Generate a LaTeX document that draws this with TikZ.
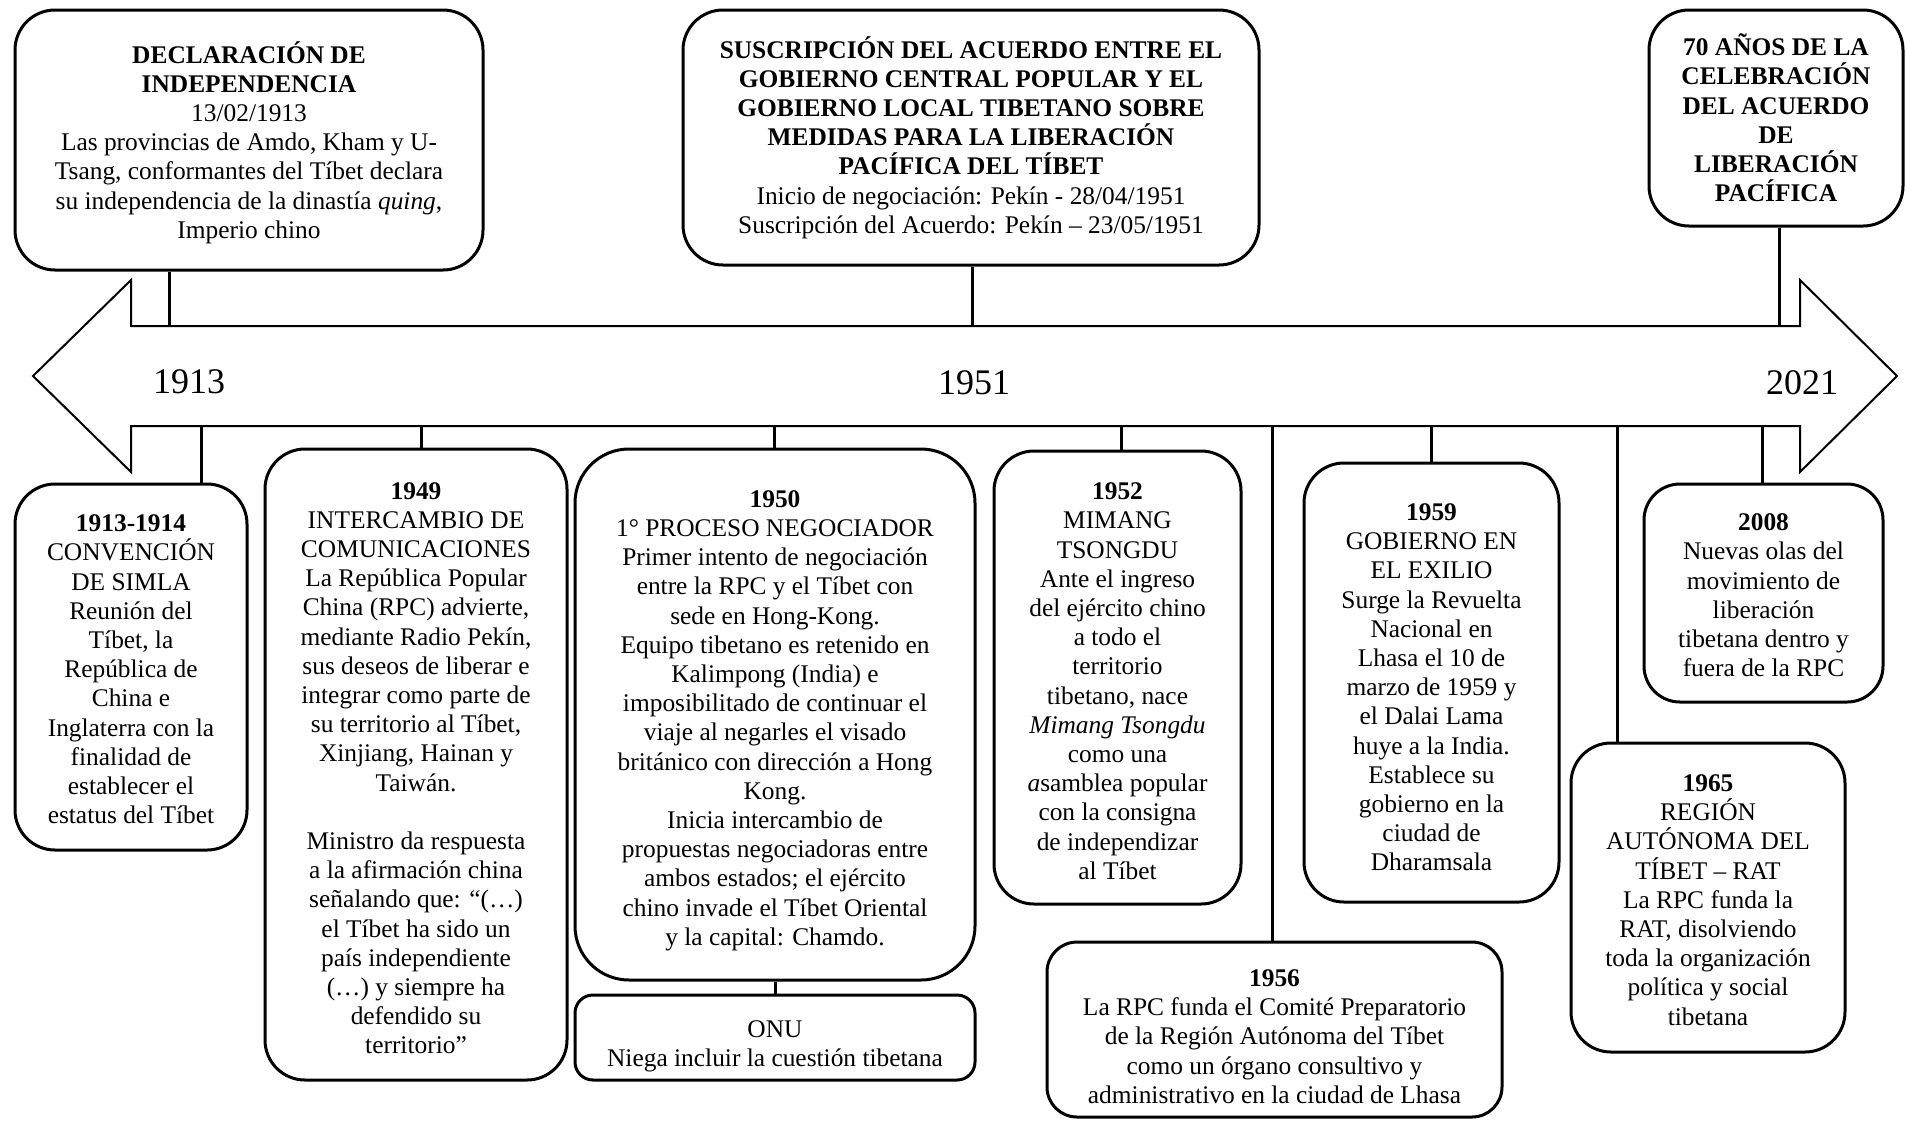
\documentclass[tikz,border=0pt]{standalone}
\usepackage{fontspec}
\setmainfont{Liberation Serif}
\tikzset{
  box/.style={draw, line width=1.5pt, rounded corners=20pt, inner sep=0pt},
  txt/.style={align=center, inner sep=0pt, font=\fontsize{12.7}{14.6}\selectfont},
  stem/.style={line width=1.5pt},
  yr/.style={font=\fontsize{18}{20}\selectfont},
  arrowshape/.style={draw, line width=1pt, line join=miter}
}
\begin{document}
\begin{tikzpicture}[x=0.5pt,y=-0.5pt]
\useasboundingbox (0,0) rectangle (1907,1121);
\fill[white] (0,0) rectangle (1907,1121);

% timeline arrow
\draw[arrowshape] (131,326) -- (131,280) -- (33,376) -- (131,472) -- (131,426)
  -- (1800,426) -- (1800,472) -- (1897,376) -- (1800,280) -- (1800,326) -- cycle;

\node[yr] (y1913) at (189,382) {1913};
\node[yr] (y1951) at (974,383) {1951};
\node[yr] (y2021) at (1802,383) {2021};

% top boxes
\node[box, minimum width=234pt, minimum height=130pt] (A) at (249,140) {};
\node[txt] (At) at ([yshift=-1.2pt]A.center)
 {\textbf{DECLARACIÓN DE}\\ \textbf{INDEPENDENCIA}\\ 13/02/1913\\ Las provincias de Amdo, Kham y U-\\ Tsang, conformantes del Tíbet declara\\ su independencia de la dinastía \textit{quing},\\ Imperio chino};

\node[box, minimum width=288pt, minimum height=127.5pt] (B) at (971,137.5) {};
\node[txt] (Bt) at (B.center)
 {\textbf{SUSCRIPCIÓN DEL ACUERDO ENTRE EL}\\ \textbf{GOBIERNO CENTRAL POPULAR Y EL}\\ \textbf{GOBIERNO LOCAL TIBETANO SOBRE}\\ \textbf{MEDIDAS PARA LA LIBERACIÓN}\\ \textbf{PACÍFICA DEL TÍBET}\\ Inicio de negociación: Pekín - 28/04/1951\\ Suscripción del Acuerdo: Pekín – 23/05/1951};

\node[box, minimum width=127pt, minimum height=108pt] (C) at (1776,118) {};
\node[txt] (Ct) at (C.center)
 {\textbf{70 AÑOS DE LA}\\ \textbf{CELEBRACIÓN}\\ \textbf{DEL ACUERDO}\\ \textbf{DE}\\ \textbf{LIBERACIÓN}\\ \textbf{PACÍFICA}};

% bottom boxes
\node[box, minimum width=116pt, minimum height=183pt] (D) at (131,667) {};
\node[txt] (Dt) at ([yshift=-1.2pt]D.center)
 {\textbf{1913-1914}\\ CONVENCIÓN\\ DE SIMLA\\ Reunión del\\ Tíbet, la\\ República de\\ China e\\ Inglaterra con la\\ finalidad de\\ establecer el\\ estatus del Tíbet};

\node[box, minimum width=151pt, minimum height=315.5pt] (E) at (416,764.5) {};
\node[txt] (Et) at ([yshift=-1.8pt]E.center)
 {\textbf{1949}\\ INTERCAMBIO DE\\ COMUNICACIONES\\ La República Popular\\ China (RPC) advierte,\\ mediante Radio Pekín,\\ sus deseos de liberar e\\ integrar como parte de\\ su territorio al Tíbet,\\ Xinjiang, Hainan y\\ Taiwán.\\[14.6pt] Ministro da respuesta\\ a la afirmación china\\ señalando que: “(…)\\ el Tíbet ha sido un\\ país independiente\\ (…) y siempre ha\\ defendido su\\ territorio”};

\node[box, rounded corners=27pt, minimum width=200pt, minimum height=265.5pt] (F) at (775,714.5) {};
\node[txt] (Ft) at ([yshift=-3pt]F.center)
 {\textbf{1950}\\ 1° PROCESO NEGOCIADOR\\ Primer intento de negociación\\ entre la RPC y el Tíbet con\\ sede en Hong-Kong.\\ Equipo tibetano es retenido en\\ Kalimpong (India) e\\ imposibilitado de continuar el\\ viaje al negarles el visado\\ británico con dirección a Hong\\ Kong.\\ Inicia intercambio de\\ propuestas negociadoras entre\\ ambos estados; el ejército\\ chino invade el Tíbet Oriental\\ y la capital: Chamdo.};

\node[box, rounded corners=9pt, minimum width=200pt, minimum height=42.5pt] (G) at (775,1037.5) {};
\node[txt] (Gt) at ([yshift=-4.5pt]G.center)
 {ONU\\ Niega incluir la cuestión tibetana};

\node[box, minimum width=123.5pt, minimum height=226.5pt] (H) at (1117.5,677.5) {};
\node[txt] (Ht) at ([yshift=-1.8pt]H.center)
 {\textbf{1952}\\ MIMANG\\ TSONGDU\\ Ante el ingreso\\ del ejército chino\\ a todo el\\ territorio\\ tibetano, nace\\ \textit{Mimang Tsongdu}\\ como una\\ \textit{a}samblea popular\\ con la consigna\\ de independizar\\ al Tíbet};

\node[box, rounded corners=15pt, minimum width=227.5pt, minimum height=87.5pt] (I) at (1274.5,1029.5) {};
\node[txt] (It) at ([yshift=-3.5pt]I.center)
 {\textbf{1956}\\ La RPC funda el Comité Preparatorio\\ de la Región Autónoma del Tíbet\\ como un órgano consultivo y\\ administrativo en la ciudad de Lhasa};

\node[box, minimum width=127.5pt, minimum height=219.5pt] (J) at (1431.5,682.5) {};
\node[txt] (Jt) at ([yshift=-2.4pt]J.center)
 {\textbf{1959}\\ GOBIERNO EN\\ EL EXILIO\\ Surge la Revuelta\\ Nacional en\\ Lhasa el 10 de\\ marzo de 1959 y\\ el Dalai Lama\\ huye a la India.\\ Establece su\\ gobierno en la\\ ciudad de\\ Dharamsala};

\node[box, rounded corners=18pt, minimum width=119.5pt, minimum height=109pt] (K) at (1763.5,593) {};
\node[txt] (Kt) at ([yshift=-1.2pt]K.center)
 {\textbf{2008}\\ Nuevas olas del\\ movimiento de\\ liberación\\ tibetana dentro y\\ fuera de la RPC};

\node[box, minimum width=137pt, minimum height=154.5pt] (L) at (1708,897.5) {};
\node[txt] (Lt) at ([yshift=-1.2pt]L.center)
 {\textbf{1965}\\ REGIÓN\\ AUTÓNOMA DEL\\ TÍBET – RAT\\ La RPC funda la\\ RAT, disolviendo\\ toda la organización\\ política y social\\ tibetana};

% stem anchors on the arrow
\coordinate (sa) at (169,326);
\coordinate (sb) at (972,326);
\coordinate (sc) at (1779,326);
\coordinate (sd) at (201,426);
\coordinate (se) at (421,426);
\coordinate (sf) at (774,426);
\coordinate (sh) at (1121,426);
\coordinate (si) at (1272,426);
\coordinate (sj) at (1431,426);
\coordinate (sk) at (1762,426);
\coordinate (sl) at (1617,426);

\draw[stem] (sa |- A.south) -- (sa);
\draw[stem] (sb |- B.south) -- (sb);
\draw[stem] (sc |- C.south) -- (sc);
\draw[stem] (sd) -- (sd |- D.north);
\draw[stem] (se) -- (se |- E.north);
\draw[stem] (sf) -- (sf |- F.north);
\draw[stem] (F.south) -- (G.north);
\draw[stem] (sh) -- (sh |- H.north);
\draw[stem] (si) -- (si |- I.north);
\draw[stem] (sj) -- (sj |- J.north);
\draw[stem] (sk) -- (sk |- K.north);
\draw[stem] (sl) -- (sl |- L.north);
\end{tikzpicture}
\end{document}
